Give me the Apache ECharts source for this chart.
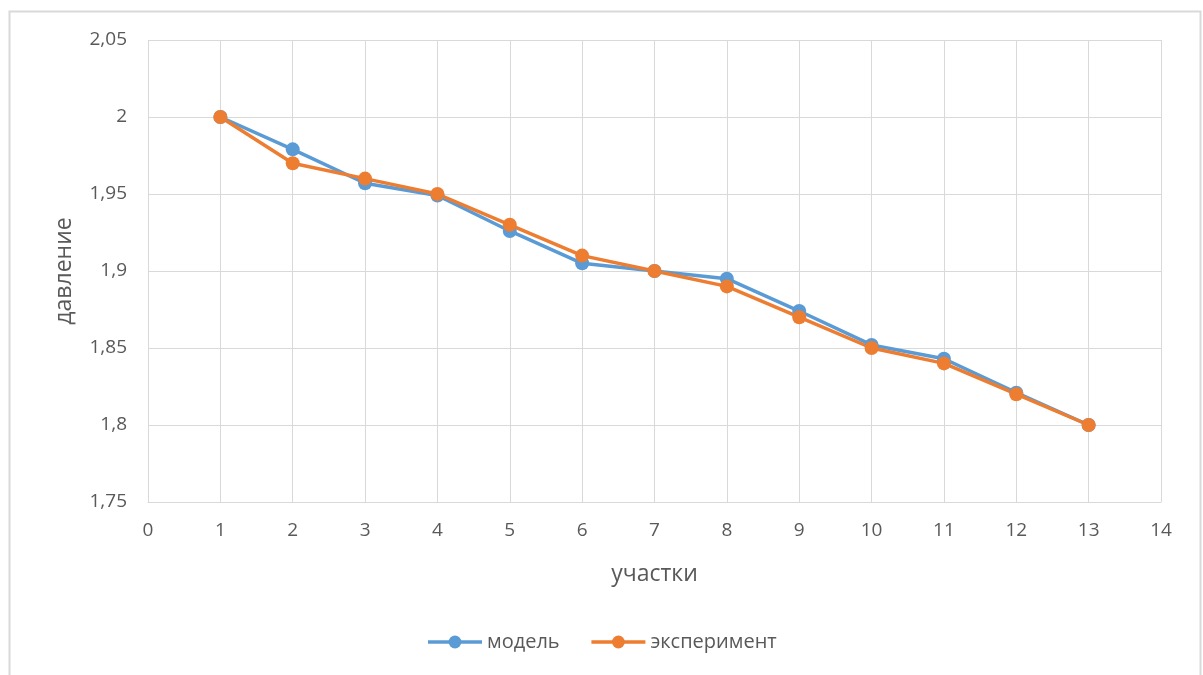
<!DOCTYPE html>
<html>
<head>
<meta charset="utf-8">
<script src="https://cdn.jsdelivr.net/npm/echarts@6/dist/echarts.min.js"></script>
<style>
html,body{margin:0;padding:0;background:#fff;}
#chart{width:1203px;height:675px;}
</style>
</head>
<body>
<div id="chart"></div>
<script>
var sections = [1, 2, 3, 4, 5, 6, 7, 8, 9, 10, 11, 12, 13];
var modelValues = [2.0, 1.979, 1.957, 1.949, 1.926, 1.905, 1.900, 1.895, 1.874, 1.852, 1.843, 1.821, 1.800];
var experimentValues = [2.0, 1.970, 1.960, 1.950, 1.930, 1.910, 1.900, 1.890, 1.870, 1.850, 1.840, 1.820, 1.800];
var seriesNames = ['модель', 'эксперимент'];
var xAxisTitle = 'участки';
var yAxisTitle = 'давление';

function pairs(vals) {
  return sections.map(function (s, i) { return [s, vals[i]]; });
}
function fmtY(v) {
  var s = (Math.round(v * 100) / 100).toFixed(2).replace(/0+$/, '').replace(/\.$/, '');
  return s.replace('.', ',');
}

var chart = echarts.init(document.getElementById('chart'));
var font = 'Open Sans';
chart.setOption({
  backgroundColor: '#ffffff',
  animation: false,
  textStyle: { fontFamily: font },
  graphic: [{
    type: 'rect',
    shape: { x: 9.5, y: 11.5, width: 1191, height: 700 },
    style: { fill: 'none', stroke: '#d9d9d9', lineWidth: 2 },
    silent: true, z: -1
  }],
  grid: { left: 148, right: 42, top: 40, bottom: 173, containLabel: false },
  legend: {
    bottom: 18,
    left: 'center',
    itemWidth: 54,
    itemHeight: 16,
    itemGap: 30,
    lineStyle: { width: 3.5 },
    textStyle: { color: '#595959', fontSize: 20, fontFamily: font },
    data: seriesNames
  },
  xAxis: {
    type: 'value',
    min: 0, max: 14, interval: 1,
    name: xAxisTitle,
    nameLocation: 'middle',
    nameGap: 61,
    nameTextStyle: { color: '#595959', fontSize: 23, fontFamily: font },
    axisLine: { show: true, lineStyle: { color: '#d9d9d9', width: 1 } },
    axisTick: { show: false },
    axisLabel: { color: '#595959', fontSize: 19, margin: 19, fontFamily: font },
    splitLine: { show: true, lineStyle: { color: '#d9d9d9', width: 1 } }
  },
  yAxis: {
    type: 'value',
    min: 1.75, max: 2.05, interval: 0.05,
    name: yAxisTitle,
    nameLocation: 'middle',
    nameGap: 72,
    nameTextStyle: { color: '#595959', fontSize: 23, fontFamily: font },
    axisLine: { show: false },
    axisTick: { show: false },
    axisLabel: { color: '#595959', fontSize: 19, margin: 21, fontFamily: font, formatter: fmtY },
    splitLine: { show: true, lineStyle: { color: '#d9d9d9', width: 1 } }
  },
  series: [
    {
      name: seriesNames[0], type: 'line', data: pairs(modelValues),
      symbol: 'circle', symbolSize: 14,
      lineStyle: { color: '#5B9BD5', width: 3.5 },
      itemStyle: { color: '#5B9BD5' }
    },
    {
      name: seriesNames[1], type: 'line', data: pairs(experimentValues),
      symbol: 'circle', symbolSize: 14,
      lineStyle: { color: '#ED7D31', width: 3.5 },
      itemStyle: { color: '#ED7D31' }
    }
  ]
});
</script>
</body>
</html>
